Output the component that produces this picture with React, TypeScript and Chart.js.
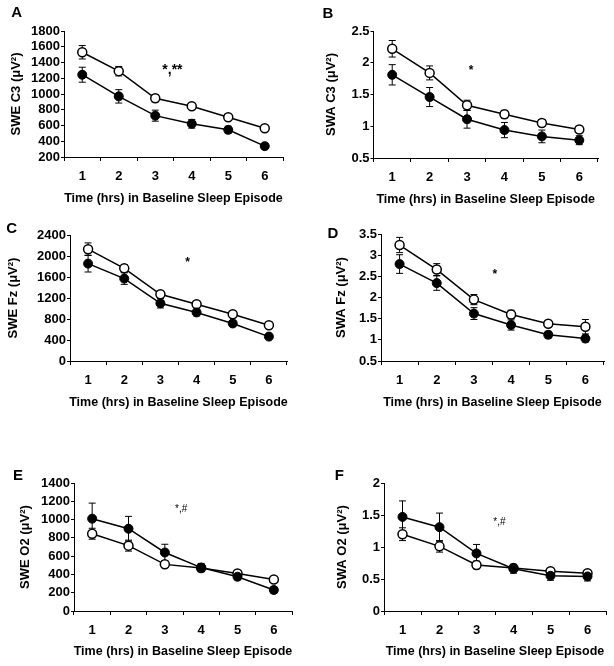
import React, { useEffect, useRef } from "react";
import { Chart, registerables } from "chart.js";

Chart.register(...registerables);

// ---------- data ----------
const hours = ["1", "2", "3", "4", "5", "6"];

const sweC3Open = [1530, 1290, 945, 845, 705, 565];
const sweC3OpenErr = [85, 60, 45, 35, 30, 30];
const sweC3Filled = [1245, 970, 725, 622, 545, 338];
const sweC3FilledErr = [95, 85, 70, 55, 45, 35];

const swaC3Open = [2.22, 1.84, 1.33, 1.19, 1.05, 0.95];
const swaC3OpenErr = [0.13, 0.11, 0.08, 0.06, 0.05, 0.05];
const swaC3Filled = [1.81, 1.46, 1.11, 0.94, 0.84, 0.78];
const swaC3FilledErr = [0.16, 0.15, 0.14, 0.12, 0.1, 0.07];

const sweFzOpen = [2130, 1765, 1270, 1080, 890, 680];
const sweFzOpenErr = [120, 70, 55, 50, 55, 40];
const sweFzFilled = [1855, 1570, 1100, 925, 715, 465];
const sweFzFilledErr = [160, 110, 90, 65, 55, 45];

const swaFzOpen = [3.24, 2.66, 1.95, 1.6, 1.38, 1.31];
const swaFzOpenErr = [0.18, 0.14, 0.12, 0.1, 0.08, 0.17];
const swaFzFilled = [2.79, 2.34, 1.62, 1.35, 1.12, 1.03];
const swaFzFilledErr = [0.22, 0.17, 0.14, 0.12, 0.08, 0.08];

const sweO2Open = [845, 715, 510, 470, 410, 345];
const sweO2OpenErr = [60, 60, 30, 35, 25, 25];
const sweO2Filled = [1010, 900, 640, 475, 375, 230];
const sweO2FilledErr = [170, 135, 90, 45, 35, 35];

const swaO2Open = [1.2, 1.01, 0.72, 0.67, 0.62, 0.59];
const swaO2OpenErr = [0.1, 0.09, 0.06, 0.05, 0.04, 0.04];
const swaO2Filled = [1.47, 1.31, 0.9, 0.66, 0.55, 0.54];
const swaO2FilledErr = [0.25, 0.22, 0.14, 0.07, 0.07, 0.07];

const xTitle = "Time (hrs) in Baseline Sleep Episode";

const FONT = "'Liberation Sans', Arial, Helvetica, sans-serif";

type Box = { x: number; y: number; w: number; h: number };
type Area = { l: number; t: number; r: number; b: number };
type Panel = {
  letter: string;
  yLabel: string;
  yMin: number;
  yMax: number;
  yStep: number;
  open: number[];
  openErr: number[];
  filled: number[];
  filledErr: number[];
  note: string;
  noteX: number; // category index position
  noteY: number; // value (baseline)
  noteFont: string;
  box: Box;
  area: Area;
  letterPos: [number, number];
  yLabelX: number;
  xTitleY: number;
};

const panels: Panel[] = [
  {
    letter: "A", yLabel: "SWE C3 (\u03bcV\u00b2)", yMin: 200, yMax: 1800, yStep: 200,
    open: sweC3Open, openErr: sweC3OpenErr, filled: sweC3Filled, filledErr: sweC3FilledErr,
    note: "*,**", noteX: 2.47, noteY: 1248, noteFont: `bold 14px ${FONT}`,
    box: { x: 0, y: 0, w: 307, h: 210 }, area: { l: 64, t: 31, r: 283, b: 157 },
    letterPos: [16.7, 12.5], yLabelX: 16, xTitleY: 199,
  },
  {
    letter: "B", yLabel: "SWA C3 (\u03bcV\u00b2)", yMin: 0.5, yMax: 2.5, yStep: 0.5,
    open: swaC3Open, openErr: swaC3OpenErr, filled: swaC3Filled, filledErr: swaC3FilledErr,
    note: "*", noteX: 2.11, noteY: 1.83, noteFont: `bold 12px ${FONT}`,
    box: { x: 307, y: 0, w: 307, h: 210 }, area: { l: 373.5, t: 31, r: 598, b: 158 },
    letterPos: [327.8, 13.8], yLabelX: 331, xTitleY: 200,
  },
  {
    letter: "C", yLabel: "SWE Fz (\u03bcV\u00b2)", yMin: 0, yMax: 2400, yStep: 400,
    open: sweFzOpen, openErr: sweFzOpenErr, filled: sweFzFilled, filledErr: sweFzFilledErr,
    note: "*", noteX: 2.75, noteY: 1810, noteFont: `bold 12px ${FONT}`,
    box: { x: 0, y: 210, w: 307, h: 215 }, area: { l: 70, t: 235, r: 287, b: 361 },
    letterPos: [11.7, 229], yLabelX: 13, xTitleY: 402.7,
  },
  {
    letter: "D", yLabel: "SWA Fz (\u03bcV\u00b2)", yMin: 0.5, yMax: 3.5, yStep: 0.5,
    open: swaFzOpen, openErr: swaFzOpenErr, filled: swaFzFilled, filledErr: swaFzFilledErr,
    note: "*", noteX: 2.56, noteY: 2.46, noteFont: `bold 12px ${FONT}`,
    box: { x: 307, y: 210, w: 307, h: 215 }, area: { l: 381, t: 234, r: 604, b: 361 },
    letterPos: [332.8, 234], yLabelX: 341, xTitleY: 402.7,
  },
  {
    letter: "E", yLabel: "SWE O2 (\u03bcV\u00b2)", yMin: 0, yMax: 1400, yStep: 200,
    open: sweO2Open, openErr: sweO2OpenErr, filled: sweO2Filled, filledErr: sweO2FilledErr,
    note: "*,#", noteX: 2.45, noteY: 1083, noteFont: `10px ${FONT}`,
    box: { x: 0, y: 425, w: 307, h: 241 }, area: { l: 74, t: 483, r: 292, b: 611 },
    letterPos: [18, 475.8], yLabelX: 25.7, xTitleY: 651.7,
  },
  {
    letter: "F", yLabel: "SWA O2 (\u03bcV\u00b2)", yMin: 0, yMax: 2, yStep: 0.5,
    open: swaO2Open, openErr: swaO2OpenErr, filled: swaO2Filled, filledErr: swaO2FilledErr,
    note: "*,#", noteX: 2.62, noteY: 1.34, noteFont: `10px ${FONT}`,
    box: { x: 307, y: 425, w: 307, h: 241 }, area: { l: 384, t: 483, r: 606, b: 611 },
    letterPos: [339.3, 475.5], yLabelX: 342.7, xTitleY: 652,
  },
];

const errorBarPlugin = {
  id: "errorBars",
  beforeDatasetsDraw(chart: any) {
    const ctx = chart.ctx;
    const yScale = chart.scales.y;
    ctx.save();
    ctx.strokeStyle = "#000";
    ctx.lineWidth = 1;
    chart.data.datasets.forEach((ds: any, di: number) => {
      const meta = chart.getDatasetMeta(di);
      const errs: number[] = ds.errors || [];
      meta.data.forEach((pt: any, i: number) => {
        const v = ds.data[i];
        const e = errs[i] || 0;
        const x = pt.x;
        const yTop = yScale.getPixelForValue(v + e);
        const yBot = yScale.getPixelForValue(v - e);
        const cap = 3.5;
        ctx.beginPath();
        ctx.moveTo(x, yTop);
        ctx.lineTo(x, yBot);
        ctx.moveTo(x - cap, yTop);
        ctx.lineTo(x + cap, yTop);
        ctx.moveTo(x - cap, yBot);
        ctx.lineTo(x + cap, yBot);
        ctx.stroke();
      });
    });
    ctx.restore();
  },
};

function makeTextPlugin(p: Panel) {
  return {
    id: "panelText" + p.letter,
    afterDraw(chart: any) {
      const ctx = chart.ctx;
      const ox = p.box.x;
      const oy = p.box.y;
      const ca = chart.chartArea;
      ctx.save();
      ctx.fillStyle = "#000";
      // panel letter
      ctx.font = `bold 15px ${FONT}`;
      ctx.textAlign = "center";
      ctx.textBaseline = "middle";
      ctx.fillText(p.letter, p.letterPos[0] - ox, p.letterPos[1] - oy);
      // y label
      ctx.save();
      ctx.translate(p.yLabelX - ox, (ca.top + ca.bottom) / 2);
      ctx.rotate(-Math.PI / 2);
      ctx.font = `bold 13px ${FONT}`;
      ctx.textAlign = "center";
      ctx.textBaseline = "middle";
      ctx.fillText(p.yLabel, 0, 0);
      ctx.restore();
      // x title
      ctx.font = `bold 12.5px ${FONT}`;
      ctx.textAlign = "center";
      ctx.textBaseline = "middle";
      ctx.fillText(xTitle, (ca.left + ca.right) / 2, p.xTitleY - oy);
      // significance note
      ctx.font = p.noteFont;
      ctx.textAlign = "center";
      ctx.textBaseline = "alphabetic";
      const nx = chart.scales.x.getPixelForValue(p.noteX);
      const ny = chart.scales.y.getPixelForValue(p.noteY);
      ctx.fillText(p.note, nx, ny);
      ctx.restore();
    },
  };
}

function PanelChart({ p }: { p: Panel }) {
  const ref = useRef<HTMLCanvasElement>(null);
  useEffect(() => {
    const canvas = ref.current;
    if (!canvas) return;
    const tickFont = { family: FONT, size: 13, weight: "bold" as const };
    const chart = new Chart(canvas, {
      type: "line",
      data: {
        labels: hours,
        datasets: [
          {
            data: p.filled,
            errors: p.filledErr,
            borderColor: "#000",
            borderWidth: 1.5,
            pointRadius: 4.5,
            pointBackgroundColor: "#000",
            pointBorderColor: "#000",
            pointBorderWidth: 1,
            tension: 0,
            fill: false,
            clip: false,
          } as any,
          {
            data: p.open,
            errors: p.openErr,
            borderColor: "#000",
            borderWidth: 1.5,
            pointRadius: 4.5,
            pointBackgroundColor: "#fff",
            pointBorderColor: "#000",
            pointBorderWidth: 1.5,
            tension: 0,
            fill: false,
            clip: false,
          } as any,
        ],
      },
      options: {
        animation: false,
        responsive: false,
        maintainAspectRatio: false,
        devicePixelRatio: 1,
        events: [],
        layout: {
          padding: {
            left: 0,
            top: p.area.t - p.box.y,
            right: p.box.x + p.box.w - p.area.r,
            bottom: 0,
          },
        },
        plugins: {
          legend: { display: false },
          tooltip: { enabled: false },
          title: { display: false },
        },
        scales: {
          x: {
            type: "category",
            offset: true,
            grid: {
              offset: true,
              drawOnChartArea: false,
              drawTicks: true,
              tickLength: 4,
              color: "#000",
              lineWidth: 1,
            },
            border: { display: true, color: "#000", width: 1 },
            ticks: {
              color: "#000",
              font: tickFont,
              padding: 8,
              maxRotation: 0,
              autoSkip: false,
            },
            afterFit: (s: any) => {
              s.height = p.box.y + p.box.h - p.area.b;
            },
          },
          y: {
            type: "linear",
            min: p.yMin,
            max: p.yMax,
            grid: {
              drawOnChartArea: false,
              drawTicks: true,
              tickLength: 3,
              color: "#000",
              lineWidth: 1,
            },
            border: { display: true, color: "#000", width: 1 },
            ticks: {
              stepSize: p.yStep,
              autoSkip: false,
              color: "#000",
              font: tickFont,
              padding: 1,
              callback: (v: any) => String(v),
            },
            afterFit: (s: any) => {
              s.width = p.area.l - p.box.x;
            },
          },
        },
      } as any,
      plugins: [errorBarPlugin, makeTextPlugin(p)],
    });
    return () => chart.destroy();
  }, [p]);
  return (
    <canvas
      ref={ref}
      width={p.box.w}
      height={p.box.h}
      style={{
        position: "absolute",
        left: p.box.x,
        top: p.box.y,
        width: p.box.w,
        height: p.box.h,
      }}
    />
  );
}

export default function App() {
  return (
    <div
      style={{
        position: "absolute",
        left: 0,
        top: 0,
        width: 614,
        height: 666,
        background: "#fff",
        overflow: "hidden",
      }}
    >
      {panels.map((p) => (
        <PanelChart key={p.letter} p={p} />
      ))}
    </div>
  );
}
